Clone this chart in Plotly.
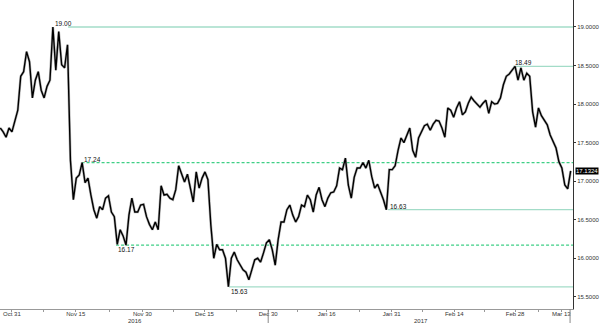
import plotly.graph_objects as go

# Price series, sampled every half trading day starting 2 trading days before Oct 31
price = [
    17.69, 17.64, 17.57, 17.69, 17.64, 17.79, 17.92, 18.36, 18.42, 18.68,
    18.55, 18.08, 18.31, 18.42, 18.18, 18.08, 18.23, 18.31, 19.00, 18.44,
    18.94, 18.51, 18.47, 18.77, 17.27, 16.76, 17.04, 17.08, 17.24, 16.98,
    17.04, 16.82, 16.63, 16.52, 16.67, 16.63, 16.78, 16.81, 16.60, 16.54,
    16.18, 16.37, 16.29, 16.17, 16.56, 16.78, 16.60, 16.60, 16.69, 16.70,
    16.54, 16.44, 16.37, 16.47, 16.37, 16.94, 16.82, 16.83, 16.78, 16.76,
    16.89, 17.20, 17.08, 16.99, 17.09, 16.89, 16.73, 17.12, 16.91, 17.04,
    17.12, 17.02, 16.43, 16.00, 16.18, 16.11, 16.11, 16.00, 15.63, 16.00,
    16.08, 15.98, 15.91, 15.85, 15.82, 15.72, 15.85, 15.98, 16.00, 15.95,
    16.07, 16.20, 16.24, 16.11, 15.91, 16.24, 16.47, 16.47, 16.63, 16.69,
    16.56, 16.47, 16.54, 16.69, 16.67, 16.82, 16.76, 16.60, 16.82, 16.92,
    16.76, 16.67, 16.78, 16.85, 16.86, 16.94, 17.17, 17.15, 17.30, 16.95,
    16.78, 17.05, 17.17, 17.17, 17.24, 17.17, 17.27, 17.06, 16.91, 16.96,
    16.86, 16.76, 16.63, 17.15, 17.15, 17.20, 17.40, 17.56, 17.50, 17.60,
    17.69, 17.40, 17.31, 17.56, 17.64, 17.72, 17.74, 17.66, 17.74, 17.79,
    17.78, 17.69, 17.57, 17.95, 17.92, 17.83, 17.95, 18.03, 17.86, 17.90,
    18.01, 18.09, 18.04, 18.00, 17.96, 18.01, 18.05, 17.88, 18.03, 18.00,
    18.01, 18.08, 18.25, 18.36, 18.39, 18.44, 18.49, 18.31, 18.47, 18.31,
    18.40, 18.36, 17.90, 17.70, 17.95, 17.85, 17.79, 17.73, 17.60, 17.51,
    17.43, 17.25, 17.17, 16.95, 16.90, 17.1324,
]
x_days = [-2 + 0.5 * i for i in range(len(price))]
last_price = 17.1324

# Key levels
level_values = [19.00, 18.49, 17.24, 16.63, 16.17, 15.63]
level_labels = ["19.00", "18.49", "17.24", "16.63", "16.17", "15.63"]
level_at = [7.0, 85.7, 11.9, 64.3, 17.8, 37.1]
level_dashed = [False, False, True, False, True, False]
level_label_below = [False, False, False, False, True, True]

# X-axis labels (trading-day positions)
tick_pos = [0, 10.9, 22.3, 32.9, 43.8, 53.8, 64.9, 75.6, 86.0, 93.9]
tick_text = ["Oct 31", "Nov 15", "Nov 30", "Dec 15", "Dec 30", "Jan 16",
             "Jan 31", "Feb 14", "Feb 28", "Mar 13"]
year_labels = ["2016", "2017"]
year_pos = [21.0, 70.0]
year_split = [43.8, 95.4]

y_ticks = [15.5, 16.0, 16.5, 17.0, 17.5, 18.0, 18.5, 19.0]

fig = go.Figure()
fig.add_trace(go.Scatter(x=x_days, y=price, mode="lines",
                         line=dict(color="#b8b8b8", width=2.6),
                         hoverinfo="skip", showlegend=False))
fig.add_trace(go.Scatter(x=x_days, y=price, mode="lines",
                         line=dict(color="#000000", width=1.4),
                         showlegend=False))

shapes = []
annotations = []
for v, lab, at, dashed, below in zip(level_values, level_labels, level_at,
                                     level_dashed, level_label_below):
    x0 = at + (2.6 if lab == "19.00" else 0)
    shapes.append(dict(type="line", xref="x", yref="y", x0=x0, x1=95.9,
                       y0=v, y1=v, layer="below",
                       line=dict(color="#3fcf86" if dashed else "#a3dcc8",
                                 width=1.3,
                                 dash="3px,2px" if dashed else "solid")))
    annotations.append(dict(x=at, y=v, xref="x", yref="y", text=lab,
                            showarrow=False, xanchor="left",
                            yanchor="top" if below else "bottom",
                            yshift=1 if below else -2,
                            font=dict(family="Liberation Sans", size=6.5,
                                      color="#111")))

for xp in year_split:
    shapes.append(dict(type="line", xref="x", yref="paper", x0=xp, x1=xp,
                       y0=0, y1=-0.046, line=dict(color="#888", width=1)))

for t, xp in zip(year_labels, year_pos):
    annotations.append(dict(x=xp, y=-0.038, xref="x", yref="paper", text=t,
                            showarrow=False, xanchor="center", yanchor="middle",
                            font=dict(family="Liberation Sans", size=6,
                                      color="#333")))

annotations.append(dict(x=1.0, y=last_price, xref="paper", yref="y",
                        text=f"{last_price:.4f}", showarrow=False,
                        xanchor="left", yanchor="middle", xshift=2,
                        bgcolor="#000", borderpad=0,
                        font=dict(family="Liberation Sans", size=6,
                                  color="#fff")))

minor_pos = [(a + b) / 2 for a, b in zip(tick_pos[:-1], tick_pos[1:])]

fig.update_layout(
    width=600, height=323,
    margin=dict(l=0, r=25, t=0, b=14),
    paper_bgcolor="white", plot_bgcolor="white",
    shapes=shapes, annotations=annotations,
    xaxis=dict(range=[-2.04, 95.9], showgrid=False, zeroline=False,
               tickmode="array", tickvals=tick_pos + minor_pos,
               ticktext=tick_text + [""] * len(minor_pos),
               ticks="outside", ticklen=2, tickcolor="#999",
               ticklabelstandoff=-3,
               showline=True, linecolor="#999", linewidth=1,
               tickfont=dict(family="Liberation Sans", size=6, color="#333")),
    yaxis=dict(range=[15.342, 19.35], side="right", showgrid=False,
               zeroline=False, tickmode="array", tickvals=y_ticks,
               ticktext=[f"{v:.4f}" for v in y_ticks],
               ticks="outside", ticklen=2, tickcolor="#333",
               showline=True, linecolor="#333", linewidth=1,
               tickfont=dict(family="Liberation Sans", size=6, color="#333")),
)

fig.write_html("out.html")
